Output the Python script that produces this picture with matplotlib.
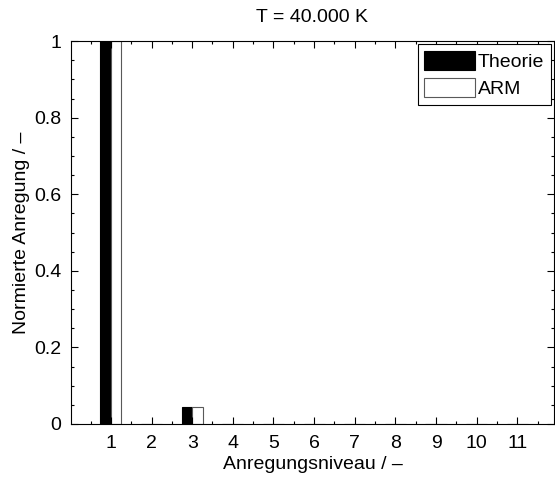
import numpy as np
import matplotlib
matplotlib.use("Agg")
import matplotlib.pyplot as plt
from matplotlib.ticker import MultipleLocator, FuncFormatter

plt.rcParams['font.family'] = ['Liberation Sans', 'DejaVu Sans']
plt.rcParams['font.size'] = 14

# Anregungsniveaus und normierte Besetzung
niveaus = np.arange(1, 12)
theorie = [1.0, 0, 0.045, 0, 0, 0, 0, 0, 0, 0, 0]
arm = [1.0, 0, 0.045, 0, 0, 0, 0, 0, 0, 0, 0]

fig = plt.figure(figsize=(5.55, 4.79), dpi=100)
ax = fig.add_axes([0.128, 0.115, 0.87, 0.799])

breite = 0.26
ax.bar(niveaus - breite / 2, theorie, width=breite, color='k', edgecolor='k',
       linewidth=0.8, label='Theorie')
ax.bar(niveaus + breite / 2, arm, width=breite, color='w', edgecolor='0.35',
       linewidth=0.8, label='ARM')

ax.set_xlim(0.02, 11.9)
ax.set_ylim(0, 1)
ax.set_xticks(niveaus)
ax.xaxis.set_minor_locator(MultipleLocator(0.5))
ax.yaxis.set_major_locator(MultipleLocator(0.2))
ax.yaxis.set_minor_locator(MultipleLocator(0.05))
ax.yaxis.set_major_formatter(FuncFormatter(lambda v, p: f"{v:g}"))
ax.tick_params(which='both', direction='in', top=True, right=True, width=0.8)
ax.tick_params(which='major', length=5)
ax.tick_params(which='minor', length=2.5)
ax.tick_params(axis='x', which='major', pad=8)
ax.tick_params(axis='y', which='major', pad=7)
for s in ax.spines.values():
    s.set_linewidth(0.8)

ax.set_title("T = 40.000 K", fontsize=14, pad=14)
ax.set_xlabel("Anregungsniveau / –", labelpad=3)
ax.set_ylabel("Normierte Anregung / –", labelpad=3)

leg = ax.legend(loc='upper right', fancybox=False, edgecolor='k', framealpha=1,
                borderaxespad=0.15, handlelength=2.6, handleheight=1.15,
                handletextpad=0.15, borderpad=0.35, labelspacing=0.35)
leg.get_frame().set_linewidth(0.8)

fig.savefig("out.png", dpi=100)
